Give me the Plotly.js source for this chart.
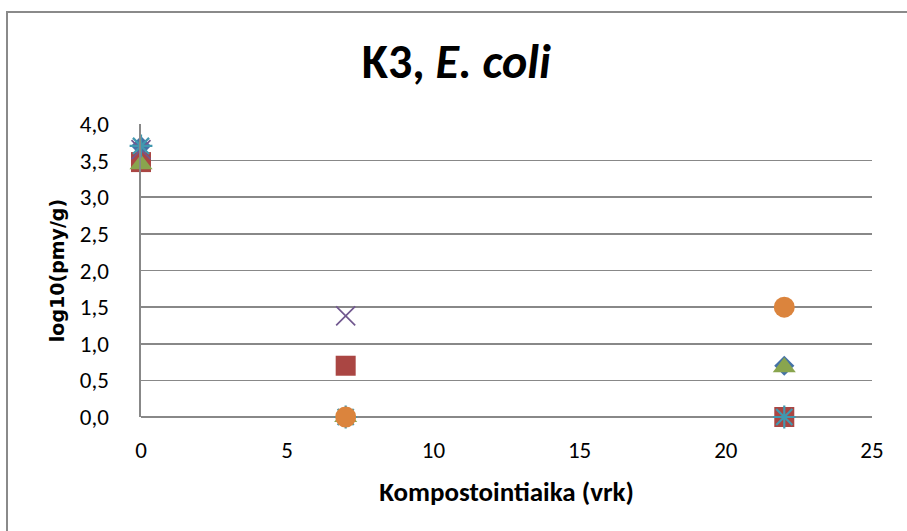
<!DOCTYPE html>
<html>
<head>
<meta charset="utf-8">
<script src="https://cdn.plot.ly/plotly-3.0.1.min.js"></script>
<style>
html,body{margin:0;padding:0;background:#fff;}
#chart{width:907px;height:531px;}
</style>
</head>
<body>
<div id="chart"></div>
<script>
// Composting time (days)
const days = [0, 7, 22];
// Series values log10(cfu/g)
const series1 = [3.70, 0.00, 0.70];   // blue diamond
const series2 = [3.48, 0.70, 0.00];   // red square
const series3 = [3.45, 0.00, 0.68];   // green triangle
const series4 = [3.65, 1.38, null];   // purple x
const series5 = [3.70, 0.00, 0.00];   // light blue star
const series6 = [null, 0.00, 1.50];   // orange circle
const xTicks = [0, 5, 10, 15, 20, 25];
const yTicks = [0, 0.5, 1, 1.5, 2, 2.5, 3, 3.5, 4];

const FONT = "Carlito, Lato, 'Open Sans', sans-serif";

const mk = (y, name, symbol, color, size) => ({
  x: days, y: y, name: name, type: 'scatter', mode: 'markers',
  marker: {symbol: symbol, color: color, size: size, line: {width: 0}},
  cliponaxis: false
});

const traces = [
  mk(series1, 'Sarja1', 'diamond', '#4572A7', 15.5),
  mk(series2, 'Sarja2', 'square', '#AA4643', 20),
  mk(series3, 'Sarja3', 'triangle-up', '#89A54E', 20),
  {x: days, y: series4, name: 'Sarja4', type: 'scatter', mode: 'markers', cliponaxis: false,
   marker: {symbol: 'x-thin-open', size: 19, color: '#71588F', line: {width: 1.7, color: '#71588F'}}},
  {x: days, y: series5, name: 'Sarja5', type: 'scatter', mode: 'markers', cliponaxis: false,
   marker: {symbol: 'asterisk-open', size: 19, color: '#4198AF', line: {width: 2.2, color: '#4198AF'}}},
  mk(series6, 'Sarja6', 'circle', '#DB843D', 21)
];

const layout = {
  width: 907, height: 531,
  margin: {l: 141, r: 35, t: 124, b: 114},
  paper_bgcolor: '#ffffff', plot_bgcolor: '#ffffff',
  showlegend: false,
  separators: ',.',
  font: {family: FONT, color: '#000', size: 23},
  title: {text: '<b>K3, <i>E. coli</i></b>', font: {family: FONT, size: 48, color: '#000'},
          x: 0.503, xanchor: 'center', y: 0.885, yanchor: 'middle'},
  xaxis: {
    range: [0, 25], tickvals: xTicks, ticktext: xTicks.map(String),
    showgrid: false, zeroline: false, showline: false,
    ticks: '', ticklabelstandoff: 17,
    tickfont: {family: FONT, size: 23, color: '#000'},
    title: {text: '<b>Kompostointiaika (vrk)</b>', font: {family: FONT, size: 27, color: '#000'}, standoff: 19}
  },
  yaxis: {
    range: [0, 4], tickvals: yTicks, tickformat: '.1f',
    showgrid: true, gridcolor: '#888888', gridwidth: 1.6,
    zeroline: true, zerolinecolor: '#888888', zerolinewidth: 1.6,
    showline: true, linecolor: '#888888', linewidth: 1.6,
    ticks: '', ticklabelstandoff: 26,
    tickfont: {family: FONT, size: 23, color: '#000'},
    title: {text: '<b>log10(pmy/g)</b>', font: {family: "'DejaVu Sans', Verdana, sans-serif", size: 19, color: '#000'}, standoff: 10}
  },
  shapes: [{
    type: 'rect', xref: 'paper', yref: 'paper',
    x0: (7 - 141) / 731, x1: 1.3, y0: -0.6, y1: (417 - 12) / 293,
    line: {color: '#8a8a8a', width: 2}, fillcolor: 'rgba(0,0,0,0)', layer: 'below'
  }]
};

Plotly.newPlot('chart', traces, layout, {displayModeBar: false, staticPlot: true});
</script>
</body>
</html>
